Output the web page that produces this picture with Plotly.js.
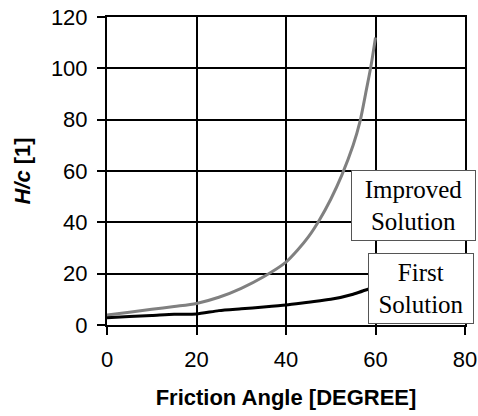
<!DOCTYPE html>
<html>
<head>
<meta charset="utf-8">
<script src="https://cdn.plot.ly/plotly-3.0.1.min.js"></script>
<style>html,body{margin:0;padding:0;background:#fff;}#chart{width:478px;height:416px;}</style>
</head>
<body>
<div id="chart"></div>
<script>
const improvedX = [0, 5, 10, 15, 20, 25, 30, 35, 40, 42.5, 45, 47.5, 50, 52.5, 55, 56.5, 58, 59, 60];
const improvedY = [3.9, 5.0, 6.1, 7.2, 8.4, 10.8, 14.3, 18.8, 24.5, 29.0, 34.3, 41, 49, 58.5, 70, 79, 92, 101, 112];
const firstX = [0, 5, 10, 15, 20, 25, 30, 35, 40, 45, 50, 55, 60];
const firstY = [2.8, 3.3, 3.7, 4.2, 4.3, 5.6, 6.3, 7.0, 7.8, 8.9, 10.0, 12.0, 15.0];
const xTicks = [0, 20, 40, 60, 80];
const yTicks = [0, 20, 40, 60, 80, 100, 120];
const labelImproved = "Improved<br>Solution";
const labelFirst = "First<br>Solution";

const sans = "Liberation Sans, Arial, sans-serif";
const serif = "Liberation Serif, Times New Roman, serif";

const traces = [
  {x: improvedX, y: improvedY, mode: "lines", line: {color: "#808080", width: 3, shape: "spline", smoothing: 0.8}, showlegend: false, hoverinfo: "skip"},
  {x: firstX, y: firstY, mode: "lines", line: {color: "#000000", width: 3, shape: "spline", smoothing: 0.6}, showlegend: false, hoverinfo: "skip"}
];

const axisCommon = {
  showline: true, linecolor: "#000", linewidth: 2, mirror: true,
  showgrid: true, gridcolor: "#000", gridwidth: 2,
  zeroline: false, ticks: "outside", ticklen: 8, tickwidth: 2, tickcolor: "#000",
  tickfont: {family: sans, size: 22, color: "#000"}
};

const layout = {
  width: 478, height: 416,
  margin: {l: 107, r: 13, t: 17, b: 91},
  paper_bgcolor: "#fff", plot_bgcolor: "#fff",
  xaxis: Object.assign({}, axisCommon, {
    range: [0, 80], tickvals: xTicks, ticktext: xTicks.map(String), ticklabelstandoff: 6,
    title: {text: "<b>Friction Angle [DEGREE]</b>", font: {family: sans, size: 22, color: "#000"}, standoff: 18}
  }),
  yaxis: Object.assign({}, axisCommon, {
    range: [0, 120], tickvals: yTicks, ticktext: yTicks.map(String), ticklabelstandoff: 5,
    title: {text: "<b><i>H/c</i> [1]</b>", font: {family: sans, size: 22, color: "#000"}, standoff: 14}
  }),
  annotations: [
    {x: 68.6, y: 46.4, xref: "x", yref: "y", text: labelImproved, showarrow: false,
     font: {family: serif, size: 25, color: "#000"}, bgcolor: "#fff", bordercolor: "#555",
     borderwidth: 1, borderpad: 1, width: 121, height: 67, align: "center"},
    {x: 70.2, y: 14.4, xref: "x", yref: "y", text: labelFirst, showarrow: false,
     font: {family: serif, size: 25, color: "#000"}, bgcolor: "#fff", bordercolor: "#555",
     borderwidth: 1, borderpad: 1, width: 102, height: 67, align: "center"}
  ]
};

Plotly.newPlot("chart", traces, layout, {staticPlot: true, displayModeBar: false});
</script>
</body>
</html>
